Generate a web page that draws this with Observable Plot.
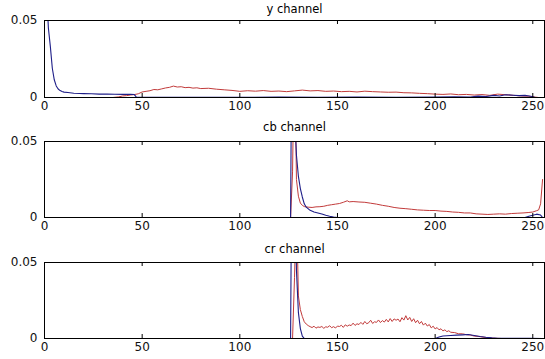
<!DOCTYPE html>
<html><head><meta charset="utf-8">
<script src="https://cdn.jsdelivr.net/npm/d3@7"></script>
<script src="https://cdn.jsdelivr.net/npm/@observablehq/plot@0.6"></script>
<style>
html,body{margin:0;padding:0;background:#fff;}
#wrap{position:relative;width:545px;height:359px;overflow:hidden;background:#fff;}
.panel{position:absolute;left:0;}
.panel svg{display:block;}
</style></head><body><div id="wrap"></div>
<script>
const xTicks = [0, 50, 100, 150, 200, 250];
const yTicks = [0, 0.05];
const yTickLabels = ["0", "0.05"];
const titles = ["y channel", "cb channel", "cr channel"];

// y channel
const yBlue = [[0,0.09],[1,0.07],[2,0.045],[3,0.033],[4,0.019],[5,0.0115],[6,0.0075],[7,0.0055],[8,0.0045],[9,0.0039],[10,0.0035],[12,0.0032],[15,0.0028],[18,0.0026],[20,0.0025],[24,0.0024],[28,0.0022],[32,0.0023],[36,0.0021],[40,0.002],[44,0.002],[46,0.0019],[47,0.0002],[50,0.0001],[60,0.0002],[70,0.0001],[80,0.0002],[100,0.0001],[120,0.0003],[140,0.0002],[160,0.0003],[180,0.0002],[200,0.0003],[210,0.0005],[218,0.0003],[222,0.0009],[226,0.0006],[230,0.0014],[233,0.0010],[236,0.0018],[240,0.0015],[243,0.0012],[246,0.0014],[249,0.0008],[251,0.0002],[253,0],[255,0]];
const yRed = [[0,0],[35,0],[38,0.0004],[40,0.0010],[42,0.0012],[44,0.0016],[46,0.0019],[48,0.0024],[50,0.0036],[52,0.0040],[54,0.0044],[56,0.0052],[58,0.0050],[60,0.0056],[62,0.0062],[64,0.0066],[66,0.0074],[68,0.0068],[70,0.0070],[72,0.0064],[74,0.0066],[76,0.0061],[78,0.0063],[80,0.0058],[84,0.0060],[88,0.0054],[92,0.0050],[96,0.0046],[100,0.0040],[104,0.0044],[108,0.0041],[112,0.0045],[116,0.0040],[120,0.0042],[124,0.0038],[128,0.0043],[132,0.0048],[136,0.0043],[140,0.0045],[144,0.0040],[148,0.0042],[152,0.0038],[156,0.0040],[160,0.0036],[164,0.0041],[168,0.0038],[172,0.0036],[176,0.0034],[180,0.0035],[184,0.0031],[188,0.0030],[192,0.0027],[196,0.0025],[200,0.0022],[204,0.0020],[208,0.0023],[212,0.0018],[216,0.0020],[220,0.0016],[224,0.0019],[228,0.0014],[232,0.0022],[236,0.0018],[240,0.0014],[244,0.0010],[248,0.0008],[251,0.0003],[253,0],[255,0]];

// cb channel
const cbBlue = [[0,0],[126,0],[127,0.2],[128,0.07],[129,0.041],[130,0.027],[131,0.019],[132,0.0135],[133,0.009],[134,0.0068],[136,0.0047],[138,0.0036],[140,0.003],[142,0.0023],[144,0.0015],[146,0.0008],[148,0.0003],[150,0],[246,0],[248,0.0008],[250,0.0015],[252,0.0022],[254,0.0016],[255,0]];
const cbRed = [[0,0],[126,0],[127,0.03],[128,0.12],[129,0.025],[130,0.014],[131,0.0095],[132,0.008],[133,0.0072],[135,0.0068],[137,0.0066],[139,0.0070],[141,0.0071],[143,0.0074],[145,0.0080],[147,0.0084],[149,0.0088],[151,0.0092],[153,0.0100],[155,0.0110],[156,0.0103],[158,0.0105],[161,0.0102],[164,0.0100],[167,0.0094],[170,0.0088],[173,0.0080],[176,0.0074],[179,0.0066],[182,0.0061],[185,0.0058],[188,0.0054],[191,0.0050],[194,0.0048],[197,0.0046],[200,0.0046],[203,0.0042],[206,0.0040],[209,0.0036],[212,0.0034],[215,0.0030],[218,0.0030],[221,0.0024],[224,0.0022],[227,0.0020],[230,0.0022],[233,0.0024],[236,0.0022],[239,0.0026],[242,0.0028],[245,0.0030],[248,0.0033],[250,0.0036],[252,0.0045],[253,0.0050],[254,0.009],[255,0.025]];

// cr channel
const crBlue = [[0,0],[126,0],[127,0.2],[128,0.12],[129,0.045],[130,0.017],[131,0.0065],[132,0.0015],[133,0],[200,0],[202,0.0010],[204,0.0016],[206,0.0018],[208,0.0020],[211,0.0022],[214,0.0024],[217,0.0026],[220,0.0020],[223,0.0013],[226,0.0008],[229,0.0004],[232,0.0002],[240,0.0001],[248,0.0002],[255,0]];
const crRed = [[0,0],[127,0],[128,0.04],[129,0.09],[130,0.028],[131,0.019],[132,0.0145],[133,0.011],[134,0.0095],[135,0.0085],[136,0.0078],[137,0.0072],[138,0.0081],[139,0.0068],[140,0.0076],[141,0.0073],[142,0.0079],[143,0.0067],[144,0.0077],[145,0.0074],[146,0.0084],[147,0.0071],[148,0.0078],[149,0.0069],[150,0.0082],[151,0.0079],[152,0.0087],[153,0.0073],[154,0.0090],[155,0.0081],[156,0.0089],[157,0.0085],[158,0.0101],[159,0.0086],[160,0.0097],[161,0.0092],[162,0.0106],[163,0.0093],[164,0.0112],[165,0.0097],[166,0.0104],[167,0.0120],[168,0.0099],[169,0.0110],[170,0.0106],[171,0.0122],[172,0.0105],[173,0.0118],[174,0.0108],[175,0.0126],[176,0.0109],[177,0.0131],[178,0.0112],[179,0.0129],[180,0.0120],[181,0.0128],[182,0.0110],[183,0.0137],[184,0.0121],[185,0.0150],[186,0.0122],[187,0.0139],[188,0.0112],[189,0.0130],[190,0.0104],[191,0.0120],[192,0.0097],[193,0.0112],[194,0.0088],[195,0.0101],[196,0.0082],[197,0.0092],[198,0.0070],[199,0.0081],[200,0.0063],[201,0.0072],[202,0.0057],[203,0.0064],[204,0.0050],[205,0.0057],[206,0.0045],[207,0.0051],[208,0.0041],[210,0.0039],[212,0.0031],[214,0.0031],[216,0.0025],[218,0.0023],[220,0.0016],[222,0.0014],[224,0.0010],[226,0.0006],[228,0.0004],[230,0.0002],[234,0],[255,0]];

const series = [[yBlue, yRed], [cbBlue, cbRed], [crBlue, crRed]];
const layout = [
  {top: 0, height: 121, mt: 20, mb: 24, titleDy: -16},
  {top: 121, height: 120, mt: 20, mb: 24, titleDy: -19},
  {top: 241, height: 118, mt: 21, mb: 21, titleDy: -18}
];
const BLUE = "#1e1e88", RED = "#c23b3b";
const font = '"DejaVu Sans", sans-serif';
const wrap = document.getElementById("wrap");

titles.forEach((title, k) => {
  const L = layout[k];
  const fh = L.height - L.mt - L.mb;
  const [blue, red] = series[k];
  const chart = Plot.plot({
    width: 545, height: L.height,
    marginTop: L.mt, marginBottom: L.mb, marginLeft: 44, marginRight: 1,
    style: {fontFamily: font, fontSize: "12px", color: "#111", background: "#fff", overflow: "visible"},
    x: {domain: [0, 256]},
    y: {domain: [0, 0.05]},
    marks: [
      Plot.line(red, {x: d => d[0], y: d => d[1], stroke: RED, strokeWidth: 1, clip: true}),
      Plot.line(blue, {x: d => d[0], y: d => d[1], stroke: BLUE, strokeWidth: 1.1, clip: true}),
      Plot.tickX(xTicks, {x: d => d, insetBottom: fh - 4, stroke: "#000"}),
      Plot.tickX(xTicks, {x: d => d, insetTop: fh - 4, stroke: "#000"}),
      Plot.frame({stroke: "#000"}),
      Plot.axisX({ticks: xTicks, tickSize: 0, tickPadding: 4, tickFormat: d => String(d), label: null}),
      Plot.axisY({ticks: yTicks, tickSize: 0, tickPadding: 7, tickFormat: d => yTickLabels[yTicks.indexOf(d)], label: null}),
      Plot.text([title], {frameAnchor: "top", dy: L.titleDy, fontSize: 11.5, fill: "#000"})
    ]
  });
  const div = document.createElement("div");
  div.className = "panel";
  div.style.top = L.top + "px";
  div.appendChild(chart);
  wrap.appendChild(div);
});
</script>
</body></html>
